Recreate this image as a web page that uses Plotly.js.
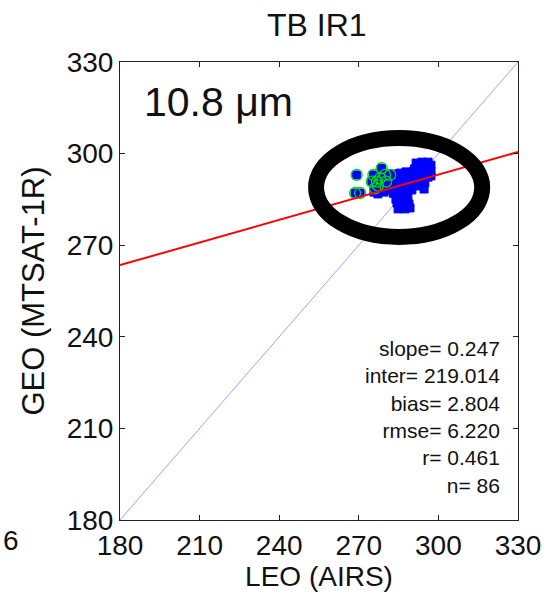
<!DOCTYPE html>
<html>
<head>
<meta charset="utf-8">
<script src="https://cdn.plot.ly/plotly-3.0.1.min.js"></script>
<style>
  html, body { margin: 0; padding: 0; background: #fff; }
  #chart { width: 550px; height: 601px; }
</style>
</head>
<body>
<div id="chart"></div>
<script>
// Collocated brightness temperatures (K): LEO (AIRS) vs GEO (MTSAT-1R), IR1 channel
const leoTb = [
  269.2, 268.6, 270.5, 278.6, 275.5, 279.9, 281.8, 274.9, 276.8, 276.1, 280.3, 278.0, 277.2,
  291.6, 293.8, 296.1, 297.2, 297.2, 294.9, 292.7, 290.4, 296.1, 293.8, 291.6, 294.9, 294.6, 297.2, 295.5,
  278.7, 281.0, 283.3, 285.5, 287.8, 289.3, 287.0, 284.8, 282.5, 280.3, 278.0, 275.7, 277.2,
  279.5, 281.8, 284.0, 286.3, 288.5, 290.4, 292.3, 290.0, 287.8, 285.5, 284.0, 286.3, 288.5,
  284.4, 286.7, 288.9, 284.8, 287.4, 289.3,
  283.0, 285.0, 287.0, 289.0, 291.0, 293.0, 295.0, 282.0, 284.0, 286.0, 288.0, 290.0, 292.0,
  294.0, 296.0, 279.0, 281.0, 283.0, 285.0, 287.0, 289.0, 291.0, 285.5, 287.5, 288.0, 276.5
];
const geoTb = [
  293.0, 287.1, 287.1, 295.2, 293.0, 293.0, 293.0, 290.8, 290.8, 288.6, 290.8, 292.0, 289.5,
  296.9, 297.2, 297.2, 296.2, 294.3, 295.3, 294.6, 294.0, 292.3, 292.3, 292.0, 290.4, 288.4, 292.7, 294.0,
  292.0, 292.7, 293.3, 293.6, 294.0, 292.7, 291.7, 291.0, 290.4, 289.7, 288.7, 287.4, 286.8,
  287.4, 288.1, 288.7, 289.4, 290.0, 290.7, 289.4, 288.1, 287.4, 286.4, 285.1, 284.8, 285.5,
  283.8, 283.2, 283.5, 281.9, 281.9, 282.2,
  292.0, 292.5, 293.0, 293.5, 295.0, 296.0, 296.5, 289.5, 290.0, 290.5, 291.5, 292.0, 293.0,
  293.5, 295.0, 290.0, 291.0, 287.0, 287.5, 288.5, 289.0, 290.0, 283.0, 284.0, 286.0, 288.0
];
// 1 = sample flagged with a green ring
const flagged = [
  1, 1, 1, 1, 1, 1, 1, 1, 1, 1, 1, 1, 1,
  0, 0, 0, 0, 0, 0, 0, 0, 0, 0, 0, 0, 0, 0, 0,
  0, 0, 0, 0, 0, 0, 0, 0, 0, 0, 0, 0, 0,
  0, 0, 0, 0, 0, 0, 0, 0, 0, 0, 0, 0, 0,
  0, 0, 0, 0, 0, 0,
  0, 0, 0, 0, 0, 0, 0, 0, 0, 0, 0, 0, 0,
  0, 0, 0, 0, 0, 0, 0, 0, 0, 0, 0, 0, 0
];

// Regression and comparison statistics
const fitSlope = 0.247;
const fitInter = 219.014;
const tbBias = 2.804;
const tbRmse = 6.220;
const corrR = 0.461;

const axisTicks = [180, 210, 240, 270, 300, 330];
const axisRange = [180, 330];

const flagX = leoTb.filter((_, i) => flagged[i]);
const flagY = geoTb.filter((_, i) => flagged[i]);

const FONT = 'Liberation Sans, Arial, Helvetica, sans-serif';

const traces = [
  { // 1:1 reference
    x: axisRange, y: axisRange, mode: 'lines', type: 'scatter',
    line: { color: 'rgb(160,160,255)', width: 1 }, hoverinfo: 'skip'
  },
  { // matchups
    x: leoTb, y: geoTb, mode: 'markers', type: 'scatter',
    marker: { symbol: 'square', size: 8, color: 'rgb(0,0,255)', line: { color: 'rgb(0,0,255)', width: 1 } }
  },
  { // flagged samples
    x: flagX, y: flagY, mode: 'markers', type: 'scatter',
    marker: { symbol: 'circle-open', size: 11, color: 'rgb(0,220,0)', line: { width: 1.3 } }
  },
  { // least-squares fit
    x: axisRange, y: axisRange.map(v => fitSlope * v + fitInter), mode: 'lines', type: 'scatter',
    line: { color: 'rgb(255,0,0)', width: 2 }, hoverinfo: 'skip'
  }
];

const statText = [
  'slope= ' + fitSlope.toFixed(3),
  'inter= ' + fitInter.toFixed(3),
  'bias= ' + tbBias.toFixed(3),
  'rmse= ' + tbRmse.toFixed(3),
  'r= ' + corrR.toFixed(3),
  'n= ' + leoTb.length
].join('<br>');

const axisCommon = {
  range: axisRange, tickvals: axisTicks, ticktext: axisTicks.map(String),
  ticks: 'inside', ticklen: 5, tickwidth: 1, tickcolor: '#222',
  showline: true, linecolor: '#222', linewidth: 1, mirror: 'ticks',
  showgrid: false, zeroline: false, fixedrange: true,
  tickfont: { family: FONT, size: 28, color: '#111' }
};

const layout = {
  width: 550, height: 601,
  margin: { l: 120, r: 32, t: 62, b: 81 },
  paper_bgcolor: '#fff', plot_bgcolor: '#fff',
  showlegend: false,
  title: { text: 'TB IR1', font: { family: FONT, size: 32, color: '#111' },
           x: 0.576, xanchor: 'center', y: 0.958, yanchor: 'middle' },
  xaxis: Object.assign({}, axisCommon, {
    title: { text: 'LEO (AIRS)', font: { family: FONT, size: 28, color: '#111' }, standoff: 6 }
  }),
  yaxis: Object.assign({}, axisCommon, {
    title: { text: 'GEO (MTSAT-1R)', font: { family: FONT, size: 31, color: '#111' }, standoff: 12 }
  }),
  shapes: [{
    type: 'circle', xref: 'x', yref: 'y', layer: 'above',
    x0: 253.9, x1: 316.5, y0: 272.7, y1: 305.1,
    line: { color: '#000', width: 16 }
  }],
  annotations: [
    { xref: 'x', yref: 'y', x: 188.2, y: 317.0, xanchor: 'left', yanchor: 'middle',
      text: '10.8 \u03bcm', showarrow: false,
      font: { family: FONT, size: 41, color: '#111' } },
    { xref: 'x', yref: 'y', x: 323.8, y: 213.8, xanchor: 'right', yanchor: 'middle', align: 'right',
      text: statText, showarrow: false,
      font: { family: FONT, size: 21, color: '#111' } },
    { xref: 'paper', yref: 'paper', x: -0.3, y: -0.044, xanchor: 'left', yanchor: 'middle',
      text: '6', showarrow: false, font: { family: FONT, size: 28, color: '#111' } }
  ]
};

Plotly.newPlot('chart', traces, layout, { staticPlot: true, displayModeBar: false });
</script>
</body>
</html>
